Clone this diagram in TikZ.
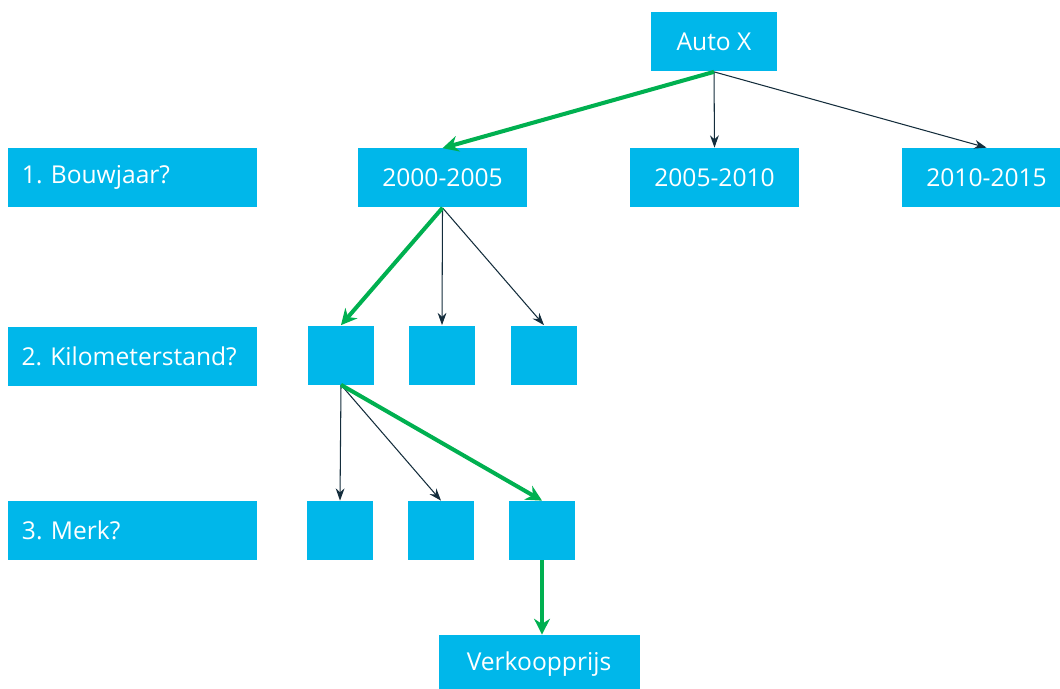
\documentclass[tikz,border=0pt]{standalone}
\usepackage{fontspec}
\setmainfont{Open Sans}
\usetikzlibrary{arrows.meta}
\definecolor{boxblue}{RGB}{0,183,234}
\definecolor{pathgreen}{RGB}{0,176,80}
\definecolor{darkline}{RGB}{20,45,60}
\begin{document}
\begin{tikzpicture}[
	box/.style={fill=boxblue,text=white,inner sep=0pt,minimum height=1.18cm,font=\fontsize{14}{16}\selectfont},
	question/.style={box,minimum width=4.98cm,text width=4.42cm,align=left},
	year/.style={box,minimum width=3.38cm},
	small/.style={box,minimum width=1.32cm},
	choice/.style={draw=darkline,line width=0.6pt,-{Stealth[length=7pt,width=5pt]}},
	route/.style={draw=pathgreen,line width=2.3pt,-{Stealth[length=9pt,width=9pt]}}]
	\useasboundingbox (0,0) rectangle (21.2,-13.78);
	% vragen links
	\node[question] (q1) at (2.65,-3.55) {1.\ Bouwjaar?};
	\node[question] (q2) at (2.64,-7.13) {2.\ Kilometerstand?};
	\node[question] (q3) at (2.65,-10.61) {3.\ Merk?};
	% boom
	\node[box,minimum width=2.52cm] (auto) at (14.28,-0.84) {Auto X};
	\node[year] (y1) at (8.85,-3.56) {2000-2005};
	\node[year] (y2) at (14.29,-3.55) {2005-2010};
	\node[year] (y3) at (19.73,-3.55) {2010-2015};
	\node[small] (k1) at (6.82,-7.10) {};
	\node[small] (k2) at (8.84,-7.10) {};
	\node[small] (k3) at (10.88,-7.10) {};
	\node[small] (m1) at (6.80,-10.61) {};
	\node[small] (m2) at (8.82,-10.61) {};
	\node[small] (m3) at (10.84,-10.61) {};
	\node[box,minimum width=4.02cm] (prijs) at (10.78,-13.29) {Verkoopprijs};
	% pijlen
	\draw[choice] (auto.south) -- (y2.north);
	\draw[choice] (auto.south) -- (y3.north);
	\draw[route] (auto.south) -- (y1.north);
	\draw[choice] (y1.south) -- (k2.north);
	\draw[choice] (y1.south) -- (k3.north);
	\draw[route] (y1.south) -- (k1.north);
	\draw[choice] (k1.south) -- (m1.north);
	\draw[choice] (k1.south) -- (m2.north);
	\draw[route] (k1.south) -- (m3.north);
	\draw[route] (m3.south) -- (m3.south |- prijs.north);
\end{tikzpicture}
\end{document}
